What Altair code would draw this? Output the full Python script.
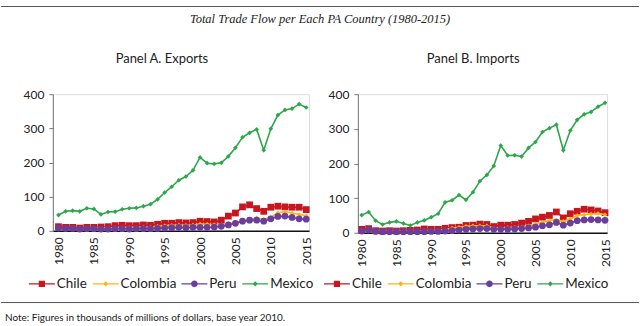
import altair as alt
import pandas as pd

years = list(range(1980, 2016))
countries = ["Chile", "Colombia", "Peru", "Mexico"]
colors = ["#C8161E", "#FDB515", "#6A3F9C", "#2DA74A"]
x_ticks = [1980, 1985, 1990, 1995, 2000, 2005, 2010, 2015]
y_ticks = [0, 100, 200, 300, 400]

# Panel A. Exports
exp_chile = [12, 10, 10, 8, 10, 10, 11, 12, 15, 16, 15, 15, 17, 16, 19, 22, 22, 24, 23, 24,
             28, 27, 26, 31, 43, 52, 70, 76, 65, 57, 69, 72, 70, 69, 69, 62]
exp_colombia = [6, 6, 5, 5, 6, 7, 8, 8, 9, 9, 10, 10, 11, 11, 13, 15, 16, 17, 16, 17,
                20, 19, 18, 18, 22, 25, 28, 32, 38, 33, 40, 53, 56, 52, 48, 44]
exp_peru = [8, 7, 7, 5, 6, 6, 5, 5, 6, 6, 5, 6, 6, 6, 7, 8, 9, 10, 9, 10,
            10, 10, 11, 13, 17, 22, 28, 31, 31, 28, 35, 42, 43, 39, 35, 34]
exp_mexico = [46, 57, 59, 57, 66, 64, 48, 55, 56, 63, 66, 67, 72, 78, 92, 112, 129, 148, 159, 177,
              215, 198, 196, 199, 218, 243, 274, 287, 297, 236, 299, 339, 354, 358, 371, 361]

# Panel B. Imports
imp_chile = [10, 12, 6, 5, 6, 5, 6, 7, 8, 11, 10, 10, 13, 15, 16, 21, 22, 25, 24, 18,
             22, 22, 24, 28, 33, 40, 45, 50, 60, 43, 55, 62, 68, 66, 63, 58]
imp_colombia = [6, 7, 5, 5, 5, 5, 5, 5, 5, 6, 7, 7, 9, 14, 16, 19, 20, 20, 20, 14,
                14, 15, 16, 17, 20, 25, 30, 35, 38, 33, 40, 50, 52, 54, 56, 52]
imp_peru = [5, 8, 4, 3, 3, 3, 3, 3, 3, 3, 4, 4, 5, 6, 8, 10, 11, 12, 12, 10,
            10, 10, 11, 12, 14, 16, 20, 23, 30, 22, 28, 35, 37, 38, 37, 36]
imp_mexico = [51, 60, 35, 24, 30, 33, 27, 21, 30, 36, 45, 55, 88, 94, 109, 95, 117, 149, 167, 193,
              252, 223, 224, 220, 245, 262, 291, 302, 312, 238, 295, 326, 342, 349, 364, 375]

title_text = "Total Trade Flow per Each PA Country (1980-2015)"
panel_titles = ["Panel A. Exports", "Panel B. Imports"]
note_text = "Note: Figures in thousands of millions of dollars, base year 2010."

FONT = "Lato"
TEXT = "#222222"

marker_style = {
    "Chile": ("square", 46),
    "Colombia": ("diamond", 20),
    "Peru": ("circle", 46),
    "Mexico": ("diamond", 22),
}
LINE = "M-1,-0.05H1V0.05H-1Z "
legend_paths = [
    LINE + "M-0.24,-0.24H0.24V0.24H-0.24Z",
    LINE + "M0,-0.2L0.2,0L0,0.2L-0.2,0Z",
    LINE + "M0.26,0A0.26,0.26 0 1,1 -0.26,0A0.26,0.26 0 1,1 0.26,0Z",
    LINE + "M0,-0.2L0.2,0L0,0.2L-0.2,0Z",
]


def long_df(series_list):
    rows = []
    for c, vals in zip(countries, series_list):
        for yr, v in zip(years, vals):
            rows.append({"year": yr, "country": c, "value": v})
    return pd.DataFrame(rows)


def one_row(text):
    return pd.DataFrame({"t": [text]})


def text_layer(text, x, y, size, font=FONT, style="normal", align="left"):
    return alt.Chart(one_row(text)).mark_text(
        font=font, fontStyle=style, fontSize=size, color=TEXT,
        align=align, baseline="middle").encode(x=alt.value(x), y=alt.value(y), text="t:N")


def panel(df, title, width, height, xdomain, title_dx, legend_x, extras=()):
    x_enc = alt.X("year:Q",
                  scale=alt.Scale(domain=xdomain, nice=False, zero=False),
                  axis=alt.Axis(values=x_ticks, format="d", labelAngle=-90, title=None,
                                grid=False, ticks=False, domainColor="#111111",
                                domainWidth=1.4, labelPadding=6, labelFontSize=12,
                                labelColor=TEXT, labelFont=FONT))
    y_enc = alt.Y("value:Q",
                  scale=alt.Scale(domain=[0, 400], nice=False),
                  axis=alt.Axis(values=y_ticks, title=None, grid=False, tickSize=4,
                                tickColor="#777777", domainColor="#777777", labelPadding=5,
                                labelFontSize=12, labelColor=TEXT, labelFont=FONT))
    layers = []
    for c, col in zip(countries, colors):
        shp, sz = marker_style[c]
        base = alt.Chart(df).transform_filter(alt.datum.country == c).encode(x=x_enc, y=y_enc)
        layers.append(base.mark_line(color=col, strokeWidth=1.6))
        layers.append(base.mark_point(shape=shp, size=sz, filled=True, color=col, opacity=1))
    leg = alt.Legend(orient="none", legendX=legend_x, legendY=177, direction="horizontal",
                     title=None, labelFont=FONT, labelFontSize=13.5, labelColor=TEXT,
                     symbolSize=676, symbolStrokeWidth=0, symbolOpacity=1, labelOffset=2,
                     columnPadding=5, padding=0, rowPadding=0)
    legend_layer = alt.Chart(df).transform_filter("false").mark_point(filled=True).encode(
        x=x_enc, y=y_enc,
        fill=alt.Fill("country:N", scale=alt.Scale(domain=countries, range=colors), legend=leg),
        shape=alt.Shape("country:N", scale=alt.Scale(domain=countries, range=legend_paths), legend=leg),
    )
    layers.append(legend_layer)
    layers.append(text_layer(title, title_dx, -35, 13))
    layers.extend(extras)
    return alt.layer(*layers).properties(width=width, height=height)


dummy = pd.DataFrame({"k": [0]})
header_rule = alt.Chart(dummy).mark_rule(color="#555555", strokeWidth=1).encode(
    x=alt.value(-52), x2=alt.value(588), y=alt.value(-88))
footer_rule = alt.Chart(dummy).mark_rule(color="#555555", strokeWidth=1).encode(
    x=alt.value(-52), x2=alt.value(588), y=alt.value(209))
header_text = text_layer(title_text, 268, -75, 12.5, font="Liberation Serif",
                         style="italic", align="center")
note = text_layer(note_text, -48, 224, 10)

panel_a = panel(long_df([exp_chile, exp_colombia, exp_peru, exp_mexico]), panel_titles[0],
                257, 137, [1979.2, 2015.4], 63, -24,
                extras=(header_rule, footer_rule, header_text, note))
panel_b = panel(long_df([imp_chile, imp_colombia, imp_peru, imp_mexico]), panel_titles[1],
                250, 139, [1979.45, 2015.3], 69, -34)

chart = alt.hconcat(panel_a, panel_b, spacing=49, bounds="flush").resolve_scale(
    fill="independent", shape="independent"
).configure_view(stroke=None).configure(font=FONT).properties(
    padding={"left": 0, "top": 5, "right": 0, "bottom": 0}
)

chart.save("out.html", embed_options={"renderer": "svg", "actions": False})
